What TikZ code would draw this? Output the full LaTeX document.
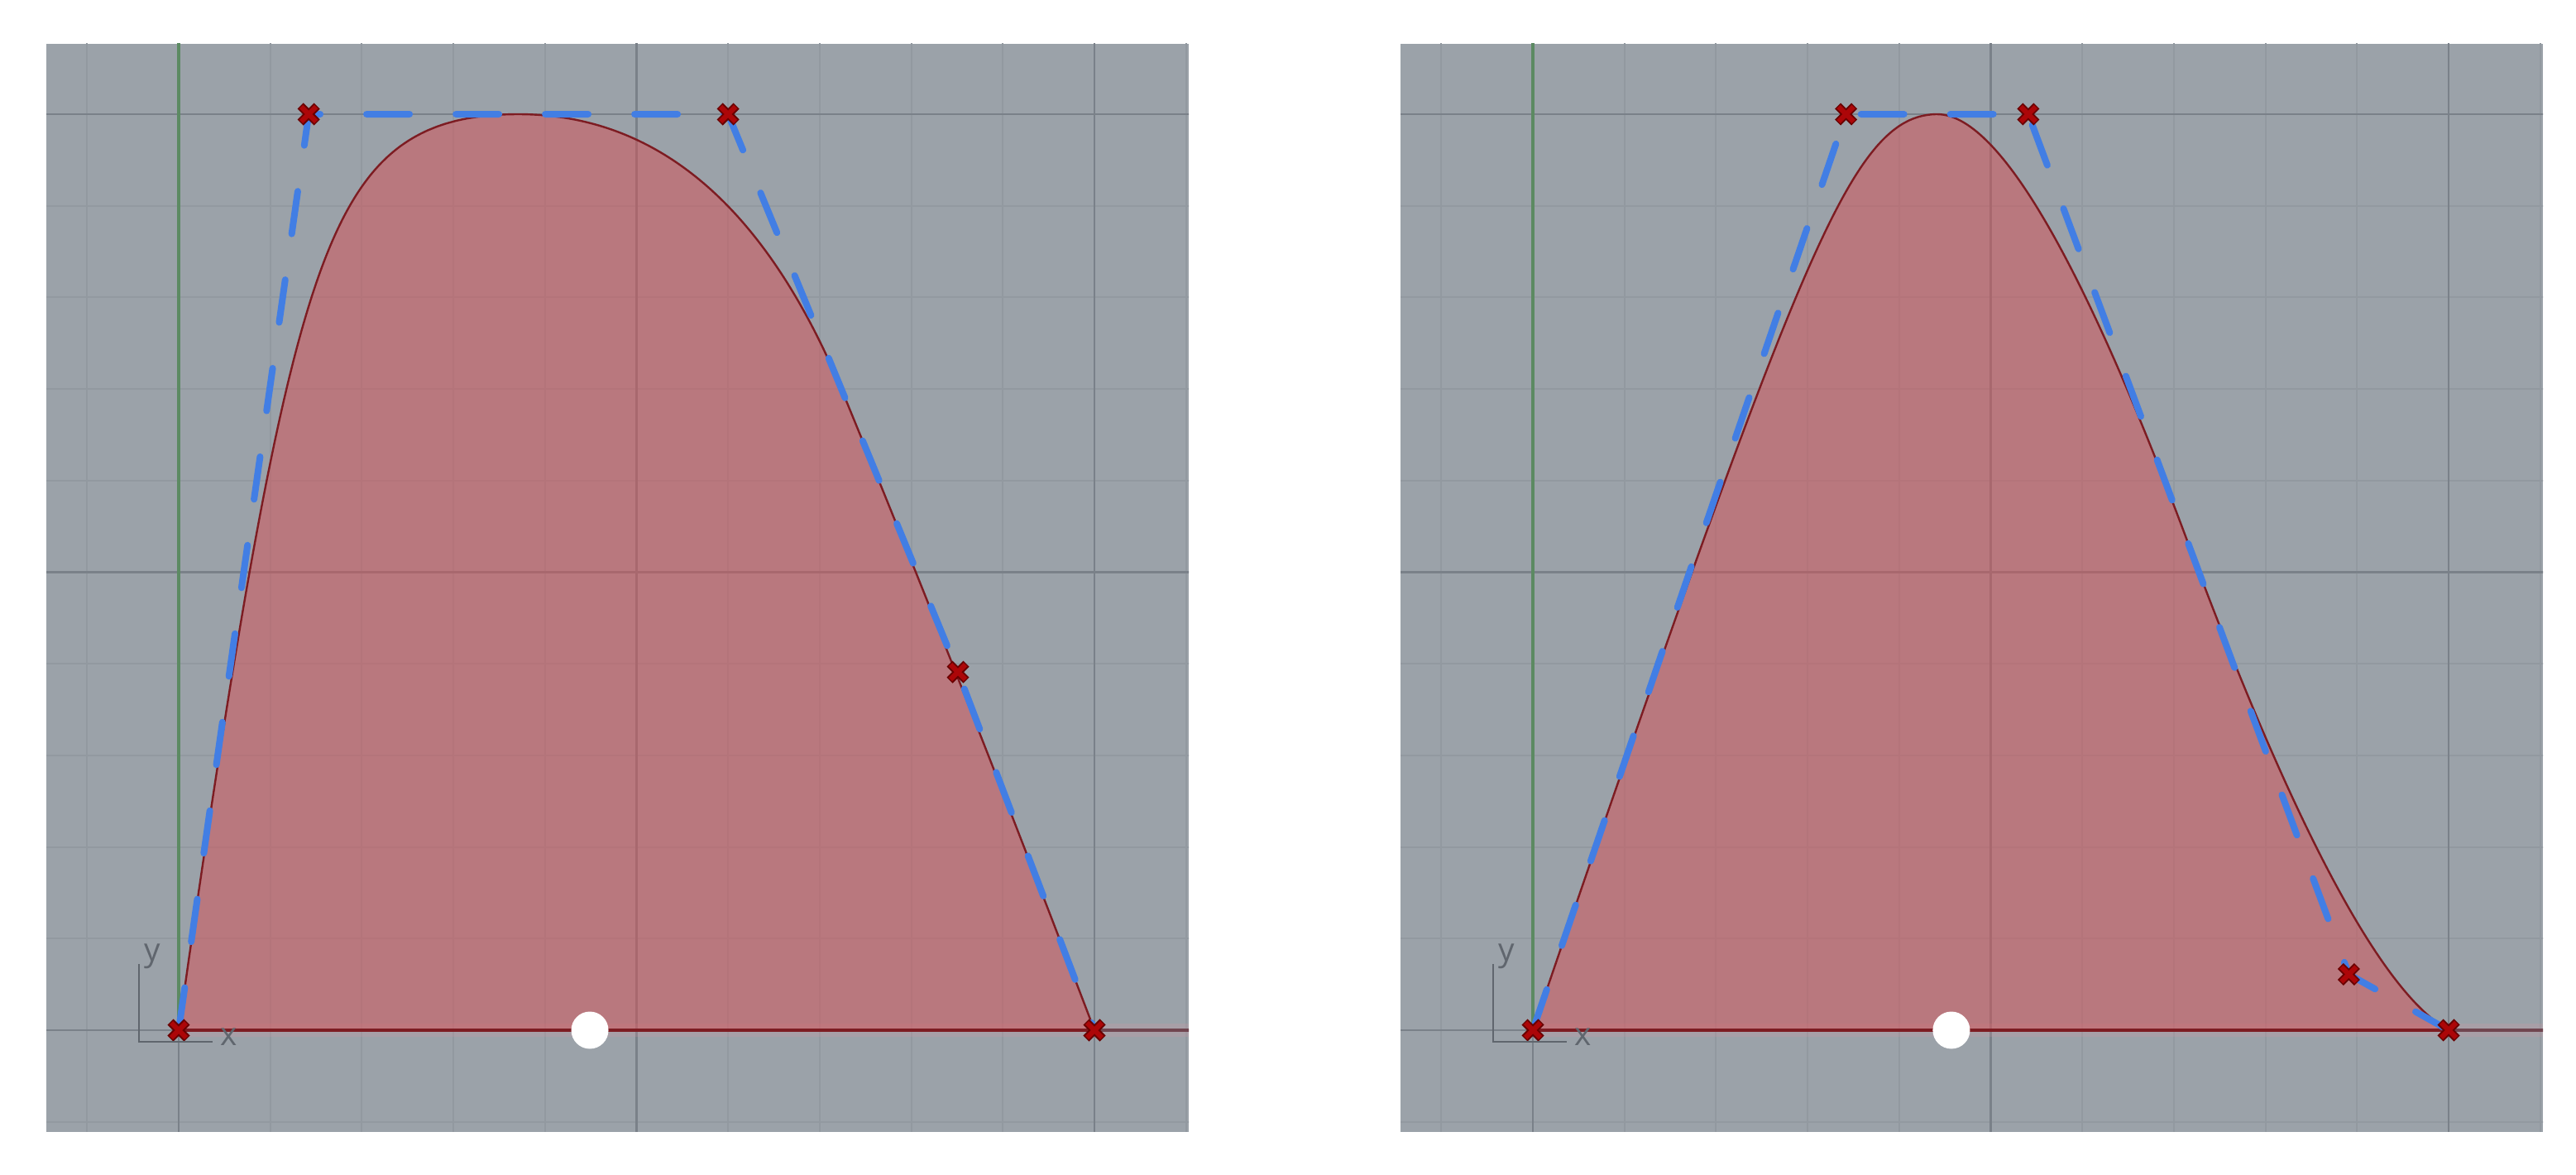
\documentclass[tikz,border=0pt]{standalone}
\usepackage{fontspec}
\setsansfont{Open Sans}
\usetikzlibrary{calc}
\definecolor{bgc}{RGB}{155,162,169}
\definecolor{gridminorc}{RGB}{146,153,160}
\definecolor{gridmajorc}{RGB}{122,129,137}
\definecolor{fillredc}{RGB}{215,80,85}
\definecolor{outlinec}{RGB}{125,28,34}
\definecolor{axisxc}{RGB}{112,70,80}
\definecolor{haloc}{RGB}{215,150,160}
\definecolor{axisyc}{RGB}{92,138,98}
\definecolor{ctrlbluec}{RGB}{66,126,228}
\definecolor{xmarkc}{RGB}{172,6,8}
\definecolor{xmarkdarkc}{RGB}{105,0,0}
\definecolor{iconc}{RGB}{96,102,110}
\tikzset{
  panelbg/.style={fill=bgc},
  gridminor/.style={draw=gridminorc, line width=0.02cm},
  gridmajor/.style={draw=gridmajorc, line width=0.028cm},
  axisxline/.style={draw=axisxc, line width=0.04cm},
  axishalo/.style={draw=haloc, line width=0.16cm, opacity=0.22},
  axisyline/.style={draw=axisyc, line width=0.04cm},
  areafill/.style={fill=fillredc, fill opacity=0.5},
  areaoutline/.style={draw=outlinec, line width=0.024cm},
  baseline/.style={draw=outlinec, line width=0.04cm},
  ctrlpoly/.style={draw=ctrlbluec, line width=0.08cm, line cap=round, line join=round, dash pattern=on 0.52cm off 0.56cm},
  whitedot/.style={circle, fill=white, inner sep=0pt, minimum size=0.45cm},
  iconline/.style={draw=iconc, line width=0.025cm},
  iconlabel/.style={text=iconc, font=\sffamily\fontsize{11}{13}\selectfont, inner sep=0pt, anchor=base},
  xcross/.pic={
    \draw[xmarkdarkc, line width=0.10cm] (-0.10cm,-0.10cm) -- (0.10cm,0.10cm) (-0.10cm,0.10cm) -- (0.10cm,-0.10cm);
    \draw[xmarkc, line width=0.06cm] (-0.09cm,-0.09cm) -- (0.09cm,0.09cm) (-0.09cm,0.09cm) -- (0.09cm,-0.09cm);
  }
}
\begin{document}
\begin{tikzpicture}
\useasboundingbox (0,0) rectangle (31.14,14.19);
\fill[white] (0,0) rectangle (31.14,14.19);

% ================= LEFT PANEL =================
\fill[panelbg] (0.56,0.51) rectangle (14.37,13.66);
\begin{scope}[shift={(2.16,1.74)}, x=1.107cm, y=1.107cm]
  \begin{scope}
    \clip (-1.445,-1.111) rectangle (11.03,10.77);
    \foreach \i in {-1,1,2,3,4,6,7,8,9,11} {
      \draw[gridminor] (\i,-1.2) -- (\i,10.9);
    }
    \foreach \i in {-1,1,2,3,4,6,7,8,9} {
      \draw[gridminor] (-1.5,\i) -- (11.1,\i);
    }
    \foreach \i in {5,10} {
      \draw[gridmajor] (\i,-1.2) -- (\i,10.9);
      \draw[gridmajor] (-1.5,\i) -- (11.1,\i);
    }
    \draw[gridmajor] (-1.5,0) -- (0,0);
    \draw[gridmajor] (0,-1.2) -- (0,0);
    \draw[axishalo] (0,0) -- (11.1,0);
    \draw[axisxline] (0,0) -- (11.1,0);
    \draw[axisyline] (0,0) -- (0,10.9);
  \end{scope}
  \coordinate (L0) at (0,0);
  \coordinate (L1) at (1.42,10);
  \coordinate (L2) at (6.0,10);
  \coordinate (L3) at (8.51,3.91);
  \coordinate (L4) at (10,0);
  \coordinate (LM12) at ($(L1)!0.5!(L2)$);
  \coordinate (LM23) at ($(L2)!0.5!(L3)$);
  \fill[areafill] plot[variable=\t, domain=0:1, samples=90, smooth]
       ({(2*\t*(1-\t)*1.42 + \t*\t*3.71)/(0.25*(1-\t)*(1-\t) + 2*\t*(1-\t) + \t*\t)},
        {(2*\t*(1-\t)*10 + \t*\t*10)/(0.25*(1-\t)*(1-\t) + 2*\t*(1-\t) + \t*\t)})
     .. controls ($(LM12)!2/3!(L2)$) and ($(LM23)!2/3!(L2)$) .. (LM23)
     .. controls ($(LM23)!2/3!(L3)$) and ($(L4)!2/3!(L3)$) .. (L4) -- cycle;
  \draw[areaoutline] plot[variable=\t, domain=0:1, samples=90, smooth]
       ({(2*\t*(1-\t)*1.42 + \t*\t*3.71)/(0.25*(1-\t)*(1-\t) + 2*\t*(1-\t) + \t*\t)},
        {(2*\t*(1-\t)*10 + \t*\t*10)/(0.25*(1-\t)*(1-\t) + 2*\t*(1-\t) + \t*\t)})
     .. controls ($(LM12)!2/3!(L2)$) and ($(LM23)!2/3!(L2)$) .. (LM23)
     .. controls ($(LM23)!2/3!(L3)$) and ($(L4)!2/3!(L3)$) .. (L4);
  \draw[baseline] (L0) -- (L4);
  \draw[ctrlpoly] (L0) -- (L1) -- (L2) -- (L3) -- (L4);
  \foreach \p in {L0,L1,L2,L3,L4} { \pic at (\p) {xcross}; }
  \node[whitedot] (Ldot) at (4.49,0) {};
  \coordinate (LiA) at ($(L0)+(-0.48cm,0.80cm)$);
  \coordinate (LiB) at ($(L0)+(-0.48cm,-0.14cm)$);
  \coordinate (LiC) at ($(L0)+(0.41cm,-0.14cm)$);
  \draw[iconline] (LiA) -- (LiB) -- (LiC);
  \node[iconlabel] (Ly) at ($(L0)+(-0.32cm,0.84cm)$) {y};
  \node[iconlabel] (Lx) at ($(L0)+(0.61cm,-0.18cm)$) {x};
\end{scope}

% ================= RIGHT PANEL =================
\fill[panelbg] (16.93,0.51) rectangle (30.74,13.66);
\begin{scope}[shift={(18.53,1.74)}, x=1.107cm, y=1.107cm]
  \begin{scope}
    \clip (-1.445,-1.111) rectangle (11.03,10.77);
    \foreach \i in {-1,1,2,3,4,6,7,8,9,11} {
      \draw[gridminor] (\i,-1.2) -- (\i,10.9);
    }
    \foreach \i in {-1,1,2,3,4,6,7,8,9} {
      \draw[gridminor] (-1.5,\i) -- (11.1,\i);
    }
    \foreach \i in {5,10} {
      \draw[gridmajor] (\i,-1.2) -- (\i,10.9);
      \draw[gridmajor] (-1.5,\i) -- (11.1,\i);
    }
    \draw[gridmajor] (-1.5,0) -- (0,0);
    \draw[gridmajor] (0,-1.2) -- (0,0);
    \draw[axishalo] (0,0) -- (11.1,0);
    \draw[axisxline] (0,0) -- (11.1,0);
    \draw[axisyline] (0,0) -- (0,10.9);
  \end{scope}
  \coordinate (R0) at (0,0);
  \coordinate (R1) at (3.42,10);
  \coordinate (R2) at (5.41,10);
  \coordinate (R3) at (8.91,0.61);
  \coordinate (R4) at (10,0);
  \coordinate (RM12) at ($(R1)!0.5!(R2)$);
  \coordinate (RM23) at ($(R2)!0.5!(R3)$);
  \fill[areafill] plot[variable=\t, domain=0:1, samples=90, smooth]
       ({(2*\t*(1-\t)*3.42 + \t*\t*4.415)/(0.25*(1-\t)*(1-\t) + 2*\t*(1-\t) + \t*\t)},
        {(2*\t*(1-\t)*10 + \t*\t*10)/(0.25*(1-\t)*(1-\t) + 2*\t*(1-\t) + \t*\t)})
     .. controls ($(RM12)!2/3!(R2)$) and ($(RM23)!2/3!(R2)$) .. (RM23)
     .. controls ($(RM23)!2/3!(R3)$) and ($(R4)!2/3!(R3)$) .. (R4) -- cycle;
  \draw[areaoutline] plot[variable=\t, domain=0:1, samples=90, smooth]
       ({(2*\t*(1-\t)*3.42 + \t*\t*4.415)/(0.25*(1-\t)*(1-\t) + 2*\t*(1-\t) + \t*\t)},
        {(2*\t*(1-\t)*10 + \t*\t*10)/(0.25*(1-\t)*(1-\t) + 2*\t*(1-\t) + \t*\t)})
     .. controls ($(RM12)!2/3!(R2)$) and ($(RM23)!2/3!(R2)$) .. (RM23)
     .. controls ($(RM23)!2/3!(R3)$) and ($(R4)!2/3!(R3)$) .. (R4);
  \draw[baseline] (R0) -- (R4);
  \draw[ctrlpoly] (R0) -- (R1) -- (R2) -- (R3) -- (R4);
  \foreach \p in {R0,R1,R2,R3,R4} { \pic at (\p) {xcross}; }
  \node[whitedot] (Rdot) at (4.57,0) {};
  \coordinate (RiA) at ($(R0)+(-0.48cm,0.80cm)$);
  \coordinate (RiB) at ($(R0)+(-0.48cm,-0.14cm)$);
  \coordinate (RiC) at ($(R0)+(0.41cm,-0.14cm)$);
  \draw[iconline] (RiA) -- (RiB) -- (RiC);
  \node[iconlabel] (Ry) at ($(R0)+(-0.32cm,0.84cm)$) {y};
  \node[iconlabel] (Rx) at ($(R0)+(0.61cm,-0.18cm)$) {x};
\end{scope}
\end{tikzpicture}
\end{document}
